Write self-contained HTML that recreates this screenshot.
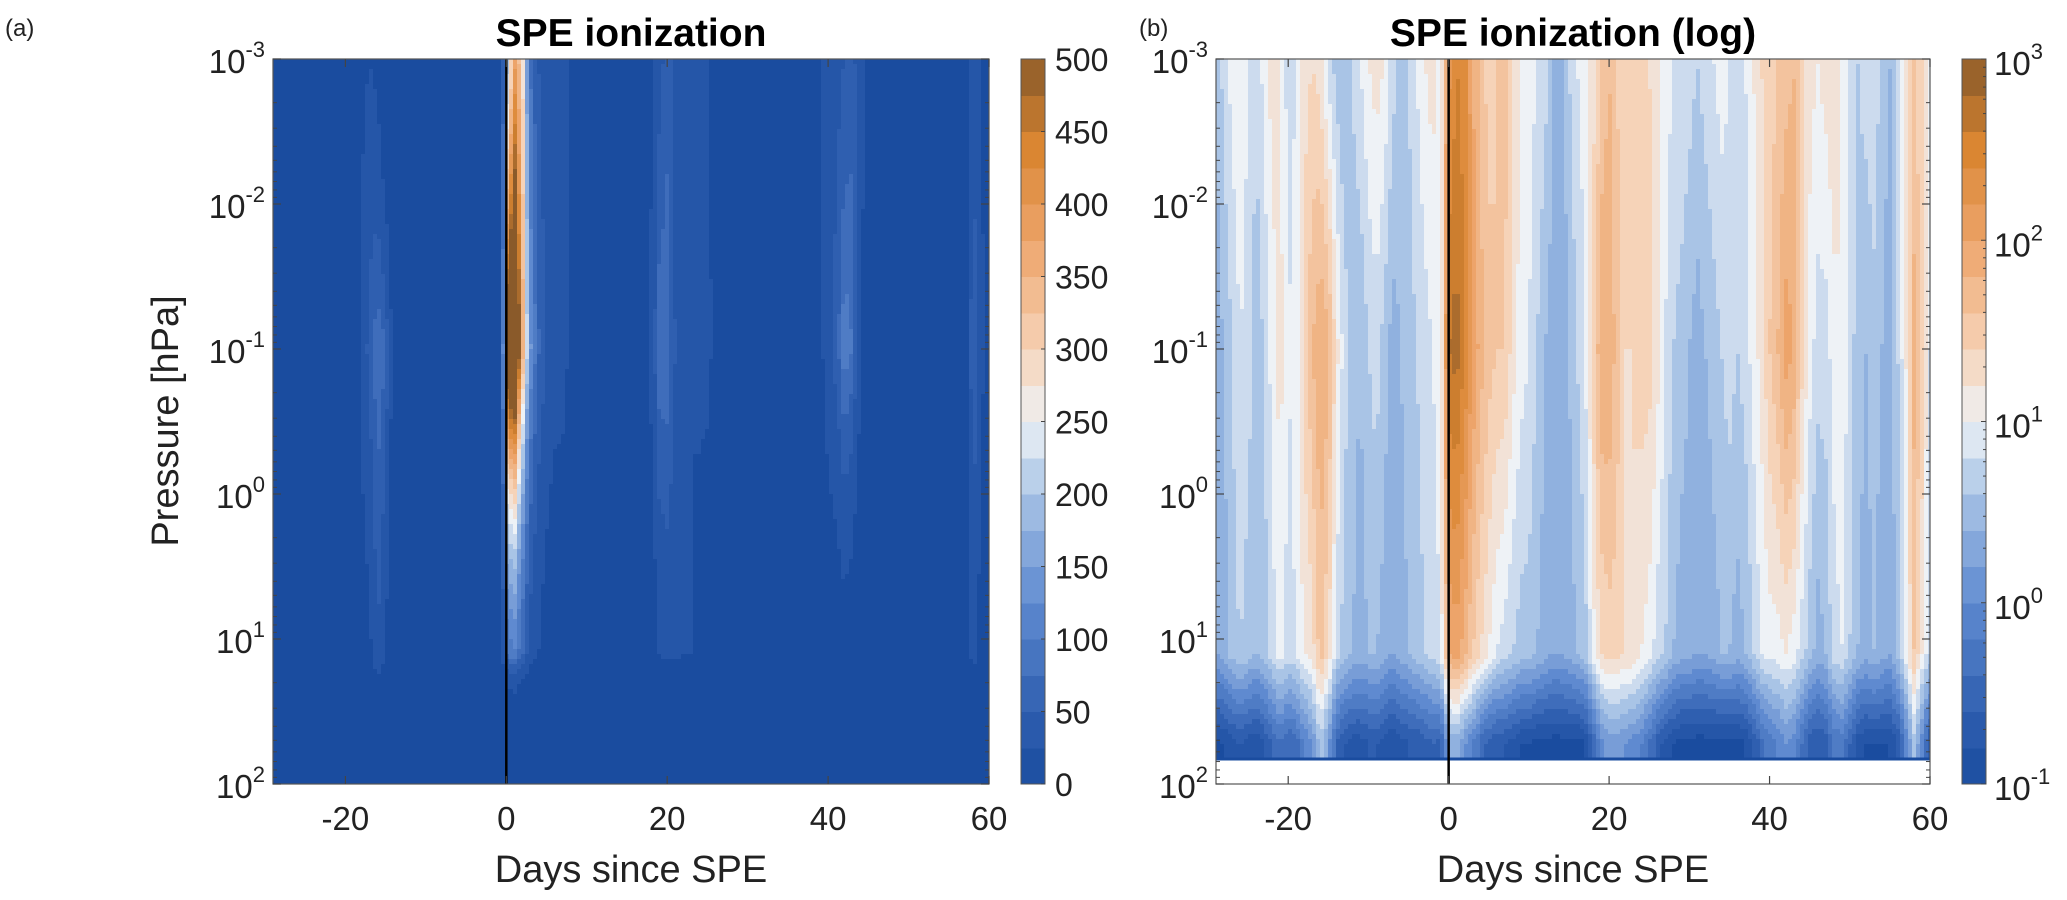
<!DOCTYPE html>
<html><head><meta charset="utf-8">
<style>
body{margin:0;background:#fff;width:2067px;height:900px;overflow:hidden;font-family:"Liberation Sans",Arial,sans-serif;}
svg{position:absolute;left:0;top:0}
</style></head>
<body>
<svg id="fig" width="2067" height="900" xmlns="http://www.w3.org/2000/svg"></svg>
<script>
// ---- data: log10(ionization) per day at four pressure levels ----
const days = [];
for (let d = -29; d <= 60; d++) days.push(d);
const levelLogP = [-3, -1, 1.1, 1.72];
const topVals = [0.6,0.9,1.1,1.2,1.0,0.8,1.1,1.3,1.2,0.9, 1.0,1.3,1.4,1.3,0.9,0.7,0.6,0.8,1.0,1.2, 1.3,1.2,0.9,0.7,0.8,1.0,1.2,1.3,1.1,2.3, 2.6,2.5,2.0,1.7,1.5,1.6,1.7,1.4,1.2,1.1, 1.0,0.9,0.6,0.5,0.8,1.0,1.1,1.3,1.6,1.8, 1.6,1.4,1.5,1.6,1.4,1.3,1.1,1.0,1.0,0.9, 0.8,0.9,1.0,1.1,1.0,0.9,1.0,1.2,1.4,1.5, 1.6,1.7,1.8,1.5,1.3,1.2,1.3,1.4,1.2,1.0, 0.8,0.9,1.0,0.7,0.6,0.9,1.3,1.6,1.4,1.1];
const midVals = [0.5,0.6,0.8,1.0,0.9,0.7,0.8,1.1,1.3,1.0, 1.1,1.5,1.8,2.0,1.9,1.3,0.9,0.7,0.6,0.8, 0.9,0.7,0.5,0.6,0.7,0.8,0.9,1.0,1.1,2.8, 2.9,2.6,2.2,1.9,1.7,1.6,1.6,1.3,1.1,1.0, 0.8,0.6,0.5,0.4,0.6,0.8,1.0,1.5,2.0,2.0, 1.7,1.4,1.4,1.5,1.5,1.3,1.0,0.8,0.7,0.6, 0.5,0.6,0.7,0.8,0.9,0.8,0.9,1.1,1.3,1.6, 1.8,2.1,2.0,1.5,1.1,0.9,0.9,1.1,1.2,0.9, 0.7,0.6,0.7,0.6,0.5,0.8,1.2,1.9,1.6,1.0];
const lowVals = [0.4,0.5,0.7,0.8,0.7,0.6,0.7,0.9,1.1,0.9, 1.0,1.2,1.3,1.7,1.4,0.9,0.7,0.6,0.5,0.6, 0.6,0.5,0.4,0.5,0.6,0.7,0.8,0.9,1.0,2.0, 2.1,1.9,1.6,1.4,1.2,1.0,0.9,0.8,0.7,0.7, 0.6,0.5,0.4,0.4,0.5,0.6,0.7,1.1,1.4,1.5, 1.5,1.4,1.4,1.2,1.1,0.9,0.8,0.6,0.5,0.5, 0.4,0.4,0.5,0.6,0.6,0.5,0.6,0.8,1.0,1.1, 1.1,1.2,1.1,0.9,0.7,0.5,0.6,0.9,1.0,0.8, 0.6,0.5,0.6,0.5,0.4,0.7,1.1,1.6,1.2,0.8];
const baseVals = [-0.9,-0.8,-0.7,-0.6,-0.7,-0.8,-0.6,-0.4,-0.2,-0.4, -0.3,0.0,0.2,0.7,0.3,-0.4,-0.6,-0.7,-0.7,-0.6, -0.6,-0.7,-0.8,-0.7,-0.6,-0.6,-0.5,-0.4,-0.5,0.4, 0.5,0.2,0.0,-0.3,-0.5,-0.6,-0.6,-0.7,-0.8,-0.8, -0.9,-0.9,-0.9,-0.9,-0.9,-0.9,-0.8,-0.4,0.1,0.3, 0.3,0.2,0.1,0.0,-0.2,-0.5,-0.7,-0.8,-0.9,-0.9, -0.9,-0.9,-0.9,-0.9,-0.9,-0.9,-0.8,-0.6,-0.3,-0.1, 0.0,0.2,0.1,-0.2,-0.5,-0.6,-0.5,-0.2,-0.1,-0.4, -0.7,-0.8,-0.8,-0.8,-0.8,-0.6,0.0,0.7,0.1,-0.6];
const cutoffLogP = 1.83;
const xTicks = [-20, 0, 20, 40, 60];
const yTickExps = [-3, -2, -1, 0, 1, 2];
const cbTicksA = [0,50,100,150,200,250,300,350,400,450,500];
const cbExpsB = [-1, 0, 1, 2, 3];

const NS = "http://www.w3.org/2000/svg";
const svg = document.getElementById('fig');
function el(tag, attrs, parent) {
  const e = document.createElementNS(NS, tag);
  for (const k in attrs) e.setAttribute(k, attrs[k]);
  (parent || svg).appendChild(e);
  return e;
}
const stops = [[0,[26,76,159]],[0.1,[47,95,176]],[0.25,[95,138,208]],[0.4,[169,196,230]],[0.5,[238,242,246]],[0.6,[246,211,184]],[0.75,[237,164,106]],[0.88,[217,133,48]],[1,[138,90,42]]];
function cmap(t) {
  t = Math.max(0, Math.min(1, t));
  for (let i = 1; i < stops.length; i++) {
    if (t <= stops[i][0]) {
      const a = stops[i-1], b = stops[i], f = (t - a[0]) / (b[0] - a[0]);
      const c = a[1].map((v, j) => Math.round(v + (b[1][j] - v) * f));
      return `rgb(${c[0]},${c[1]},${c[2]})`;
    }
  }
  return 'rgb(138,90,42)';
}
const TOP = 59, BOT = 784, X0 = -29, X1 = 60;
function yScale(lp) { return TOP + (lp + 3) / 5 * (BOT - TOP); }
function profile(i, lp) {
  const v = [topVals[i], midVals[i], lowVals[i], baseVals[i]];
  if (lp <= levelLogP[0]) return v[0];
  for (let k = 1; k < 4; k++) if (lp <= levelLogP[k]) {
    const f = (lp - levelLogP[k-1]) / (levelLogP[k] - levelLogP[k-1]);
    return v[k-1] + (v[k] - v[k-1]) * f;
  }
  return v[3];
}
function field(dd, lp) {
  // value between day columns (rendering interpolation)
  const fi = dd - X0;
  const i0 = Math.max(0, Math.min(days.length - 1, Math.floor(fi)));
  const i1 = Math.min(days.length - 1, i0 + 1);
  const f = Math.max(0, Math.min(1, fi - i0));
  return profile(i0, lp) * (1 - f) + profile(i1, lp) * f;
}
function panel(left, right, cbL, cbR, isLog, title, tag) {
  const xs = d => left + (d - X0) / (X1 - X0) * (right - left);
  const g = el('g', {});  
  el('rect', {x:left, y:TOP, width:right-left, height:BOT-TOP, fill:'#fff'}, g);
  const cells = el('g', {'shape-rendering':'crispEdges'}, g);
   
  const rowH = 5, colW = 4;
  for (let x = left; x < right; x += colW) {
    const dd = X0 + ((x + colW/2) - left) / (right - left) * (X1 - X0);
    for (let y = TOP; y < BOT; y += rowH) {
      const lp = -3 + ((y + rowH/2) - TOP) / (BOT - TOP) * 5;
      if (lp > cutoffLogP) break;
      const v = field(dd, lp);
      let t;
      if (isLog) t = Math.floor((v + 1) / 0.2) / 20;
      else { const lin = Math.pow(10, v); t = lin < 25 ? 0 : Math.floor(lin / 25) / 20; }
      el('rect', {x:x, y:y, width:Math.min(colW, right - x) + 0.5, height:rowH+0.5, fill:cmap(t)}, cells);
    }
  }
  if (!isLog) {
    el('rect', {x:left, y:yScale(cutoffLogP), width:right-left, height:BOT-yScale(cutoffLogP), fill:cmap(0)}, cells);
  } else {
    el('rect', {x:left, y:yScale(cutoffLogP)-2, width:right-left, height:3, fill:'#1a4c9f'}, cells);
  }
  const ln = el('line', {x1:xs(0), x2:xs(0), y1:TOP, y2:BOT, stroke:'#000', 'stroke-width':2.5}, g);
   
  el('rect', {x:left, y:TOP, width:right-left, height:BOT-TOP, fill:'none', stroke:'#555', 'stroke-width':1.2}, g);
  xTicks.forEach(t => {
    const x = xs(t);
    el('line', {x1:x, x2:x, y1:BOT, y2:BOT-8, stroke:'#444','stroke-width':1.2}, g);
    el('line', {x1:x, x2:x, y1:TOP, y2:TOP+8, stroke:'#444','stroke-width':1.2}, g);
    const tx = el('text', {x:x, y:830, 'font-size':33, 'text-anchor':'middle', fill:'#222'}, g);
    tx.textContent = t;
     
  });
  yTickExps.forEach(e => {
    const y = yScale(e);
    el('line', {x1:left, x2:left+8, y1:y, y2:y, stroke:'#444','stroke-width':1.2}, g);
    el('line', {x1:right, x2:right-8, y1:y, y2:y, stroke:'#444','stroke-width':1.2}, g);
    if (e < 2) for (let m = 2; m <= 9; m++) {
      const ym = yScale(e + Math.log10(m));
      el('line', {x1:left, x2:left+4, y1:ym, y2:ym, stroke:'#444','stroke-width':1}, g);
      el('line', {x1:right, x2:right-4, y1:ym, y2:ym, stroke:'#444','stroke-width':1}, g);
    }
    const tx = el('text', {x:left-8, y:y+14, 'font-size':33, 'text-anchor':'end', fill:'#222'}, g);
     
    const a = el('tspan', {}, tx); a.textContent = '10';
    const b = el('tspan', {'font-size':22, dy:-16}, tx); b.textContent = String(e);
  });
  const xl = el('text', {x:(left+right)/2, y:882, 'font-size':38, 'text-anchor':'middle', fill:'#222'}, g);
  xl.textContent = 'Days since SPE';
   
  const ti = el('text', {x:(left+right)/2, y:46, 'font-size':39, 'font-weight':'bold', 'text-anchor':'middle', fill:'#000'}, g);
  ti.textContent = title;
   
  const pl = el('text', {x:left - (isLog ? 77 : 268), y:36, 'font-size':24, fill:'#222'}, g);
  pl.textContent = tag;
   
  const cb = el('g', {'shape-rendering':'crispEdges'}, g);
   
  const n = 20, h = (BOT - TOP) / n;
  for (let k = 0; k < n; k++) {
    el('rect', {x:cbL, y:BOT - (k+1)*h, width:cbR-cbL, height:h+0.6, fill:cmap(k / n + 0.025)}, cb);
  }
  el('rect', {x:cbL, y:TOP, width:cbR-cbL, height:BOT-TOP, fill:'none', stroke:'#555','stroke-width':1}, g);
  if (!isLog) {
    cbTicksA.forEach(v => {
      const y = BOT - v / 500 * (BOT - TOP);
      el('line', {x1:cbR, x2:cbR-4, y1:y, y2:y, stroke:'#444'}, g);
      const tx = el('text', {x:cbR+10, y:y+12, 'font-size':32, fill:'#222'}, g);
      tx.textContent = v;
       
    });
  } else {
    cbExpsB.forEach(e => {
      const y = BOT - (e + 1) / 4 * (BOT - TOP);
      el('line', {x1:cbR, x2:cbR-5, y1:y, y2:y, stroke:'#444'}, g);
      if (e < 3) for (let m = 2; m <= 9; m++) {
        const ym = BOT - (e + 1 + Math.log10(m)) / 4 * (BOT - TOP);
        el('line', {x1:cbR, x2:cbR-3, y1:ym, y2:ym, stroke:'#444'}, g);
      }
      const tx = el('text', {x:cbR+8, y:y+16, 'font-size':33, fill:'#222'}, g);
       
      const a = el('tspan', {}, tx); a.textContent = '10';
      const b = el('tspan', {'font-size':22, dy:-16}, tx); b.textContent = String(e);
    });
  }
}
panel(273, 989, 1021, 1045, false, 'SPE ionization', '(a)');
panel(1216, 1930, 1962, 1986, true, 'SPE ionization (log)', '(b)');
const yl = el('text', {x:0, y:0, 'font-size':38, 'text-anchor':'middle', fill:'#222', transform:'translate(178,421) rotate(-90)'});
yl.textContent = 'Pressure [hPa]';


</script>
</body></html>
